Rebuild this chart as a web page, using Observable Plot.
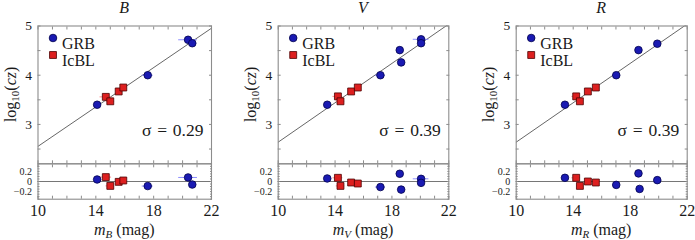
<!DOCTYPE html>
<html><head><meta charset="utf-8">
<script src="https://cdn.jsdelivr.net/npm/d3@7"></script>
<script src="https://cdn.jsdelivr.net/npm/@observablehq/plot@0.6"></script>
<style>
body{margin:0;background:#fff;}
#chart{position:relative;width:695px;height:240px;font-family:"Liberation Serif",serif;}
#chart svg{position:absolute;left:0;top:0;overflow:visible;}
</style></head><body><div id="chart"></div>
<script>
// ---------------- data ----------------
const bands = ["B", "V", "R"];
const sigmaLabels = ["0.29", "0.39", "0.39"];
const fitSlope = [0.2, 0.2, 0.2];
const fitIntercept = [0.555, 0.64, 0.64];
const xTickValues = [10, 14, 18, 22];
const yTickValues = [3, 4, 5];
const resTickValues = [-0.2, 0, 0.2];
const legendLabels = ["GRB", "IcBL"];

// B band
const grbMagB = [14.09, 17.59, 20.38, 20.67];
const grbLogCzB = [3.40, 4.00, 4.72, 4.65];
const grbErrB = [0.15, 0.38, 0.65, 0.15];
const grbResMagB = [14.09, 17.59, 20.38, 20.67];
const grbResB = [0.04, -0.09, 0.08, -0.06];
const grbResErrB = [0.15, 0.38, 0.65, 0.15];
const icMagB = [14.69, 15.00, 15.58, 15.90];
const icLogCzB = [3.56, 3.47, 3.67, 3.75];
const icErrB = [0.4, 0.3, 0.15, 0.1];
const icResB = [0.087, -0.087, -0.007, 0.02];

// V band
const grbMagV = [13.45, 17.19, 18.55, 18.65, 20.05, 20.05];
const grbLogCzV = [3.40, 4.00, 4.51, 4.26, 4.73, 4.65];
const grbErrV = [0.15, 0.35, 0.1, 0.1, 0.55, 0.1];
const grbResMagV = [13.45, 17.19, 18.55, 18.65, 20.05, 20.05];
const grbResV = [0.06, -0.11, 0.153, -0.16, 0.053, -0.027];
const grbResErrV = [0.15, 0.35, 0.1, 0.1, 0.55, 0.1];
const icMagV = [14.20, 14.38, 15.13, 15.60];
const icLogCzV = [3.57, 3.47, 3.67, 3.75];
const icErrV = [0.35, 0.3, 0.1, 0.1];
const icResV = [0.073, -0.087, -0.02, -0.04];

// R band
const grbMagR = [13.42, 17.02, 18.58, 19.90];
const grbLogCzR = [3.40, 4.00, 4.51, 4.64];
const grbErrR = [0.15, 0.25, 0.1, 0.15];
const grbResMagR = [13.42, 17.02, 18.58, 18.66, 19.90];
const grbResR = [0.073, -0.067, 0.16, -0.147, 0.027];
const grbResErrR = [0.15, 0.25, 0.1, 0.1, 0.15];
const icMagR = [14.21, 14.47, 15.03, 15.59];
const icLogCzR = [3.57, 3.47, 3.67, 3.75];
const icErrR = [0.3, 0.2, 0.1, 0.1];
const icResR = [0.073, -0.087, 0.0, -0.02];

const bandData = {
  B: {grbMag: grbMagB, grbY: grbLogCzB, grbErr: grbErrB, grbResMag: grbResMagB, grbRes: grbResB, grbResErr: grbResErrB,
      icMag: icMagB, icY: icLogCzB, icErr: icErrB, icRes: icResB},
  V: {grbMag: grbMagV, grbY: grbLogCzV, grbErr: grbErrV, grbResMag: grbResMagV, grbRes: grbResV, grbResErr: grbResErrV,
      icMag: icMagV, icY: icLogCzV, icErr: icErrV, icRes: icResV},
  R: {grbMag: grbMagR, grbY: grbLogCzR, grbErr: grbErrR, grbResMag: grbResMagR, grbRes: grbResR, grbResErr: grbResErrR,
      icMag: icMagR, icY: icLogCzR, icErr: icErrR, icRes: icResR}
};

// ---------------- layout / style ----------------
const W = 695, H = 240;
const panels = [{L: 37.5, R: 211}, {L: 277.7, R: 448.3}, {L: 515.7, R: 686.7}];
const mainTop = 25.5, mainBottom = 163.3, resBottom = 198.7;
const FONT = "Liberation Serif";
const frameColor = "#8c8c8c";
const grbFill = "#1a1ab2", grbStroke = "#00004d", grbErrColor = "#8f8fff";
const icFill = "#dd1f1f", icStroke = "#4d0000", icErrColor = "#ff8f8f";
const xDomain = [10, 22];

const chart = document.getElementById("chart");
const minorX = d3.range(10, 22.01, 1);
const minorY = d3.range(2.5, 5.01, 0.5);
const minorRes = d3.range(-0.35, 0.351, 0.05);
const fmtRes = d => d === 0 ? "0" : (d < 0 ? "\u2212" : "") + Math.abs(d).toFixed(1);

bands.forEach((band, i) => {
  const p = panels[i];
  const D = bandData[band];
  const grb = D.grbMag.map((m, k) => ({m, y: D.grbY[k], e: D.grbErr[k]}));
  const ic = D.icMag.map((m, k) => ({m, y: D.icY[k], e: D.icErr[k]}));
  const grbRes = D.grbResMag.map((m, k) => ({m, y: D.grbRes[k], e: D.grbResErr[k]}));
  const icRes = D.icMag.map((m, k) => ({m, y: D.icRes[k], e: D.icErr[k]}));
  const fit = xDomain.map(m => ({m, y: fitSlope[i] * m + fitIntercept[i]}));

  const common = {
    width: W, height: H, marginLeft: p.L, marginRight: W - p.R,
    style: {background: "transparent", fontFamily: FONT, color: "#1a1a1a", overflow: "visible"},
    x: {domain: xDomain}
  };

  const main = Plot.plot({
    ...common,
    marginTop: mainTop, marginBottom: H - mainBottom,
    y: {domain: [2.2, 5]},
    marks: [
      Plot.line(fit, {x: "m", y: "y", stroke: "#555", strokeWidth: 0.9, clip: true}),
      Plot.ruleY(grb, {y: "y", x1: d => d.m - d.e, x2: d => d.m + d.e, stroke: grbErrColor, strokeWidth: 1}),
      Plot.ruleY(ic, {y: "y", x1: d => d.m - d.e, x2: d => d.m + d.e, stroke: icErrColor, strokeWidth: 1}),
      Plot.dot(grb, {x: "m", y: "y", r: 3.8, symbol: "circle", fill: grbFill, stroke: grbStroke, strokeWidth: 0.8}),
      Plot.dot(ic, {x: "m", y: "y", r: 3.9, symbol: "square", fill: icFill, stroke: icStroke, strokeWidth: 0.8}),
      Plot.axisX(minorX, {anchor: "top", tickSize: -3, text: null, stroke: frameColor, label: null}),
      Plot.axisX(minorX, {anchor: "bottom", tickSize: -3, text: null, stroke: frameColor, label: null}),
      Plot.axisY(minorY, {anchor: "left", tickSize: -3, text: null, stroke: frameColor, label: null}),
      Plot.axisY(minorY, {anchor: "right", tickSize: -3, text: null, stroke: frameColor, label: null}),
      Plot.axisY(yTickValues, {anchor: "left", tickSize: 0, tickPadding: 6, fontSize: 13.5, label: null}),
      Plot.frame({stroke: frameColor, strokeWidth: 1.1}),
      // legend
      Plot.dot([legendLabels[0]], {frameAnchor: "top-left", dx: 15, dy: 12, r: 3.8, symbol: "circle", fill: grbFill, stroke: grbStroke, strokeWidth: 0.8}),
      Plot.dot([legendLabels[1]], {frameAnchor: "top-left", dx: 15, dy: 29, r: 3.9, symbol: "square", fill: icFill, stroke: icStroke, strokeWidth: 0.8}),
      Plot.text([legendLabels[0]], {text: d => d, frameAnchor: "top-left", dx: 24, dy: 12, textAnchor: "start", fontSize: 16, fill: "#1a1a1a"}),
      Plot.text([legendLabels[1]], {text: d => d, frameAnchor: "top-left", dx: 24, dy: 29, textAnchor: "start", fontSize: 16, fill: "#1a1a1a"}),
      Plot.text([sigmaLabels[i]], {text: d => "\u03C3\u2004=\u2004" + d, frameAnchor: "bottom-right", dx: -8, dy: -28, textAnchor: "end", fontSize: 17.5, fill: "#1a1a1a"})
    ]
  });

  const res = Plot.plot({
    ...common,
    marginTop: mainBottom, marginBottom: H - resBottom,
    y: {domain: [-0.35, 0.35]},
    marks: [
      Plot.ruleY([0], {stroke: "#666", strokeWidth: 0.9}),
      Plot.ruleY(grbRes, {y: "y", x1: d => d.m - d.e, x2: d => d.m + d.e, stroke: grbErrColor, strokeWidth: 1}),
      Plot.ruleY(icRes, {y: "y", x1: d => d.m - d.e, x2: d => d.m + d.e, stroke: icErrColor, strokeWidth: 1}),
      Plot.dot(grbRes, {x: "m", y: "y", r: 3.8, symbol: "circle", fill: grbFill, stroke: grbStroke, strokeWidth: 0.8}),
      Plot.dot(icRes, {x: "m", y: "y", r: 3.9, symbol: "square", fill: icFill, stroke: icStroke, strokeWidth: 0.8}),
      Plot.axisX(minorX, {anchor: "top", tickSize: -3, text: null, stroke: frameColor, label: null}),
      Plot.axisX(minorX, {anchor: "bottom", tickSize: -3, text: null, stroke: frameColor, label: null}),
      Plot.axisY(minorRes, {anchor: "left", tickSize: -2, text: null, stroke: frameColor, label: null}),
      Plot.axisY(minorRes, {anchor: "right", tickSize: -2, text: null, stroke: frameColor, label: null}),
      Plot.axisY(resTickValues, {anchor: "left", tickSize: 0, tickPadding: 6, fontSize: 10, tickFormat: fmtRes, label: null}),
      Plot.axisX(xTickValues, {anchor: "bottom", tickSize: 0, tickPadding: 5, fontSize: 16, label: null}),
      Plot.frame({stroke: frameColor, strokeWidth: 1.1})
    ]
  });

  chart.appendChild(main);
  chart.appendChild(res);
});

// titles and axis labels (rich text with italics / subscripts)
const over = d3.select(chart).append("svg")
  .attr("width", W).attr("height", H)
  .style("font-family", FONT).style("fill", "#1a1a1a");
bands.forEach((band, i) => {
  const p = panels[i];
  const cx = (p.L + p.R) / 2;
  over.append("text").attr("x", cx).attr("y", 13).attr("text-anchor", "middle")
    .style("font-style", "italic").style("font-size", "16px").text(band);
  const xl = over.append("text").attr("x", cx).attr("y", 235).attr("text-anchor", "middle").style("font-size", "16px");
  xl.append("tspan").style("font-style", "italic").text("m");
  xl.append("tspan").style("font-style", "italic").style("font-size", "11px").attr("dy", 3).text(band);
  xl.append("tspan").attr("dy", -3).text(" (mag)");
  const yl = over.append("text")
    .attr("transform", `translate(${p.L - 22},${(mainTop + mainBottom) / 2}) rotate(-90)`)
    .attr("text-anchor", "middle").style("font-size", "16px");
  yl.append("tspan").text("log");
  yl.append("tspan").style("font-size", "11px").attr("dy", 3).text("10");
  yl.append("tspan").attr("dy", -3).text("(");
  yl.append("tspan").style("font-style", "italic").text("cz");
  yl.append("tspan").text(")");
});
</script>
</body></html>
